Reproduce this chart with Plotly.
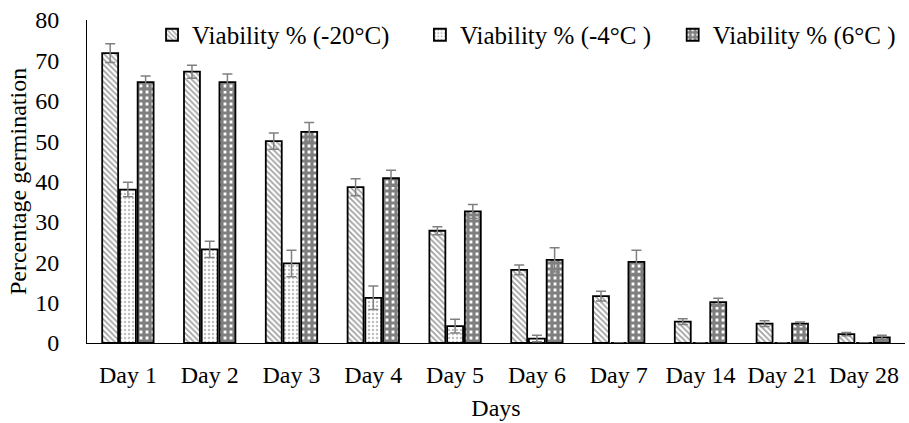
import plotly.graph_objects as go

days = ["Day 1", "Day 2", "Day 3", "Day 4", "Day 5", "Day 6", "Day 7", "Day 14", "Day 21", "Day 28"]
series_names = ["Viability % (-20°C)", "Viability % (-4°C )", "Viability % (6°C )"]

v_m20 = [71.8, 67.2, 50.0, 38.6, 27.8, 18.1, 11.6, 5.3, 4.8, 2.2]
v_m4 = [38.0, 23.2, 19.7, 11.2, 4.2, 1.1, 0, 0, 0, 0]
v_6 = [64.6, 64.6, 52.3, 40.8, 32.6, 20.6, 20.1, 10.1, 4.8, 1.4]

e_m20 = [2.3, 1.6, 2.0, 2.1, 1.0, 1.2, 1.2, 0.7, 0.7, 0.4]
e_m4 = [1.8, 2.0, 3.3, 2.9, 1.7, 0.8, 0, 0, 0, 0]
e_6 = [1.5, 2.0, 2.3, 2.0, 1.7, 3.0, 2.9, 1.0, 0.4, 0.5]

y_ticks = [0, 10, 20, 30, 40, 50, 60, 70, 80]

FONT = "Liberation Serif"

patterns = [
    dict(shape="\\", size=4, solidity=0.45, fgcolor="#444444", bgcolor="white"),
    dict(shape=".", size=4, solidity=0.3, fgcolor="#808080", bgcolor="white"),
    dict(shape="+", size=6, solidity=0.78, fgcolor="black", bgcolor="white"),
]
legend_ids = ["legend", "legend2", "legend3"]
legend_x = [0.0795, 0.407, 0.716]

fig = go.Figure()
for name, vals, errs, pat, lg in zip(series_names, [v_m20, v_m4, v_6], [e_m20, e_m4, e_6], patterns, legend_ids):
    fig.add_trace(go.Bar(
        x=days, y=vals, name=name, legend=lg,
        marker=dict(color="white", pattern=pat, line=dict(color="black", width=1.8)),
        error_y=dict(type="data", array=errs, visible=True, color="#808080", thickness=1.5, width=5),
    ))

leg_common = dict(orientation="h", xanchor="left", yanchor="middle", y=0.9536,
                  font=dict(family=FONT, size=25, color="black"), bgcolor="rgba(0,0,0,0)")

fig.update_layout(
    width=909, height=423,
    margin=dict(l=87, r=4, t=20, b=80),
    paper_bgcolor="white", plot_bgcolor="white",
    barmode="group", bargap=0.35, bargroupgap=0.1,
    font=dict(family=FONT, size=24, color="black"),
    showlegend=True,
    legend=dict(x=legend_x[0], **leg_common),
    legend2=dict(x=legend_x[1], **leg_common),
    legend3=dict(x=legend_x[2], **leg_common),
    xaxis=dict(showline=True, linecolor="black", linewidth=1, showgrid=False,
               ticks="", ticklabelstandoff=10, automargin=False,
               title=dict(text="Days", font=dict(family=FONT, size=24), standoff=12)),
    yaxis=dict(range=[0, 80], tickvals=y_ticks, showline=True, linecolor="black", linewidth=1,
               showgrid=False, ticks="", ticklabelstandoff=22, zeroline=False, automargin=False,
               title=dict(text="Percentage germination", font=dict(family=FONT, size=24), standoff=1)),
)

fig.write_html("out.html", config={"displayModeBar": False},
               post_script="document.body.style.margin='0';document.body.style.overflow='hidden';")
